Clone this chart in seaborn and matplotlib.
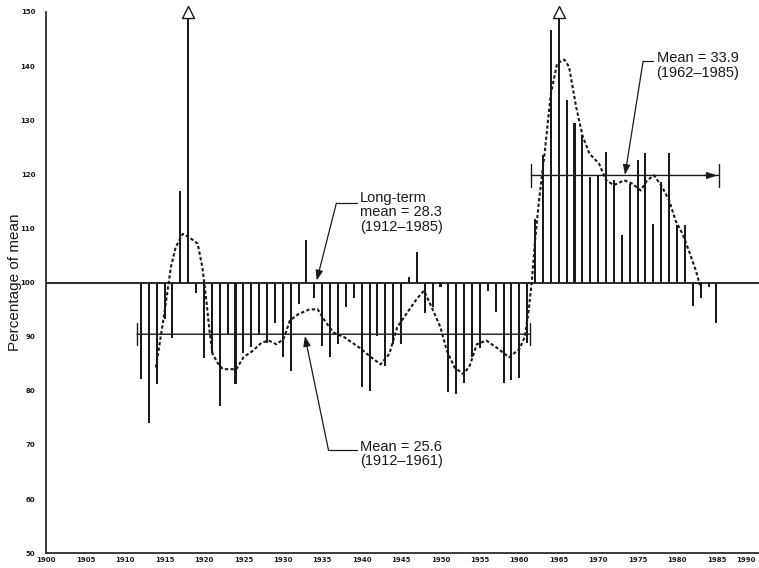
import matplotlib
matplotlib.use('Agg')
import matplotlib.pyplot as plt
import seaborn as sns

# Annual values as a percentage of the long-term mean (1912-1985)
# 1918 and 1965 run off the top of the scale (drawn with an open arrowhead)
years = list(range(1912, 1986))
pct_of_mean = [
    82.2, 74.0, 81.3, 93.3, 89.8, 117.0, 155.0, 98.0, 86.0, 87.0,         # 1912-1921
    77.2, 90.5, 81.3, 87.0, 88.1, 90.5, 88.9, 92.6, 86.3, 83.7,           # 1922-1931
    96.1, 107.8, 97.1, 88.3, 86.3, 88.7, 95.4, 97.2, 80.7, 80.0,          # 1932-1941
    90.2, 84.6, 88.7, 88.7, 101.0, 105.6, 94.3, 95.4, 99.1, 79.7,         # 1942-1951
    79.4, 81.5, 86.2, 88.0, 98.5, 94.5, 81.5, 82.0, 82.4, 88.8,           # 1952-1961
    111.8, 123.5, 146.7, 155.0, 133.7, 129.4, 127.2, 119.5, 119.8, 124.1,  # 1962-1971
    118.9, 108.7, 118.3, 122.6, 124.0, 110.9, 118.6, 124.0, 110.7, 110.7,  # 1972-1981
    95.7, 97.1, 99.1, 92.6,                                                # 1982-1985
]

# Smoothed curve (dashed)
curve_years = [
    1913.9, 1914.9, 1915.8, 1916.4, 1917.3, 1918.1, 1919.2, 1919.8, 1920.3, 1920.7,
    1921.1, 1921.8, 1922.4, 1924.1, 1925.0, 1926.2, 1927.3, 1928.2, 1929.2, 1930.1,
    1930.9, 1932.0, 1933.3, 1934.4, 1935.3, 1936.4, 1937.8, 1939.7, 1941.2, 1942.4,
    1943.5, 1944.5, 1945.8, 1947.0, 1947.9, 1948.9, 1950.0, 1950.8, 1951.8, 1952.9,
    1953.7, 1954.6, 1955.8, 1957.1, 1958.7, 1960.0, 1960.7, 1961.2, 1961.6, 1962.0,
    1962.5, 1963.2, 1964.0, 1964.8, 1965.7, 1966.3, 1967.2, 1968.0, 1968.9, 1970.1,
    1971.0, 1972.0, 1973.3, 1974.3, 1975.4, 1976.2, 1977.1, 1978.1, 1979.0, 1979.8,
    1980.7, 1981.5, 1982.4, 1982.9,
]
curve_pct = [
    84.3, 93.6, 102.8, 106.5, 109.0, 108.4, 107.2, 102.8, 96.7, 91.1,
    86.8, 85.0, 84.0, 84.0, 86.2, 87.4, 88.9, 89.3, 88.6, 89.6,
    93.0, 94.2, 95.0, 95.1, 93.0, 90.8, 89.9, 88.0, 86.2, 84.9,
    86.8, 91.7, 94.5, 97.0, 98.5, 95.4, 91.7, 87.4, 84.3, 83.1,
    84.6, 88.6, 89.3, 88.0, 86.2, 87.7, 90.0, 95.0, 100.5, 107.8,
    115.2, 123.8, 134.9, 140.5, 141.2, 139.9, 132.5, 127.2, 123.8, 122.0,
    118.9, 118.0, 118.9, 118.3, 117.0, 118.9, 119.8, 117.7, 115.2, 111.5,
    109.0, 105.9, 102.2, 99.5,
]

long_term_mean = 28.3
periods = [(1912, 1961), (1962, 1985)]
period_means = [25.6, 33.9]

INK = '#1a1a1a'


def make_chart():
    sns.set_style('white')
    plt.rcParams['font.family'] = ['Liberation Sans', 'DejaVu Sans']

    fig, ax = plt.subplots(figsize=(7.59, 5.68), dpi=100)
    fig.subplots_adjust(left=0.061, right=1.0, bottom=0.026, top=0.979)

    # vertical bars hanging from the 100 % line
    heights = [p - 100 for p in pct_of_mean]
    sns.barplot(x=years, y=heights, bottom=100, native_scale=True, width=0.26,
                color=INK, saturation=1, linewidth=0, errorbar=None, ax=ax)

    # off-scale years get an open arrowhead at the top
    off_years = [y for y, p in zip(years, pct_of_mean) if p > 150]
    sns.scatterplot(x=off_years, y=[150] * len(off_years), marker='^', s=75,
                    color='white', edgecolor=INK, linewidth=1.0, clip_on=False,
                    zorder=5, ax=ax)

    # smoothed curve
    sns.lineplot(x=curve_years, y=curve_pct, sort=False, estimator=None,
                 color=INK, lw=1.5, linestyle=(0, (1.6, 1.1)), ax=ax)

    # long-term mean line
    ax.axhline(100, color=INK, lw=1.3, zorder=3)

    # period means, drawn as bracketed horizontal lines
    for (start, end), m in zip(periods, period_means):
        level = m / long_term_mean * 100
        ax.annotate('', xy=(end + 0.35, level), xytext=(start - 0.5, level),
                    arrowprops=dict(arrowstyle='|-|, widthA=0.8, widthB=0.8',
                                    mutation_scale=10, lw=1.0, color=INK,
                                    shrinkA=0, shrinkB=0))
    # small arrowhead just inside the right cap of the later period
    late_level = period_means[1] / long_term_mean * 100
    ax.annotate('', xy=(periods[1][1] + 0.1, late_level),
                xytext=(periods[1][1] - 1.5, late_level),
                arrowprops=dict(arrowstyle='-|>, head_length=0.6, head_width=0.2',
                                mutation_scale=10, lw=1.0, color=INK,
                                shrinkA=0, shrinkB=0))

    # callouts
    arrow_kw = dict(arrowstyle='-|>, head_length=0.6, head_width=0.22',
                    mutation_scale=10, lw=0.9, color=INK, shrinkA=0, shrinkB=0)
    callouts = [
        (f'Long-term\nmean = {long_term_mean}\n({years[0]}\u2013{years[-1]})',
         (1939.8, 117.0), (1939.4, 1936.8, 114.7), (1934.3, 100.4)),
        (f'Mean = {period_means[0]}\n({periods[0][0]}\u2013{periods[0][1]})',
         (1939.8, 71.0), (1939.4, 1935.8, 69.0), (1932.8, 90.1)),
        (f'Mean = {period_means[1]}\n({periods[1][0]}\u2013{periods[1][1]})',
         (1977.4, 142.7), (1977.0, 1975.7, 140.9), (1973.4, 119.9)),
    ]
    for label, txt_xy, (x0, x1, ye), tip in callouts:
        ax.text(txt_xy[0], txt_xy[1], label, ha='left', va='top',
                fontsize=10.5, linespacing=1.08, color=INK)
        ax.plot([x0, x1], [ye, ye], color=INK, lw=0.9)
        ax.annotate('', xy=tip, xytext=(x1, ye), arrowprops=arrow_kw)

    # axes
    ax.set_xlim(1900, 1990.4)
    ax.set_ylim(50, 150)
    ax.set_xticks(range(1900, 1991, 5))
    ax.set_yticks(range(50, 151, 10))
    ax.tick_params(axis='both', direction='in', length=3, width=0.8,
                   labelsize=5, colors=INK)
    ax.tick_params(axis='y', pad=8)
    ax.tick_params(axis='x', pad=3)
    for lbl in ax.get_xticklabels() + ax.get_yticklabels():
        lbl.set_fontweight('bold')
        lbl.set_family('DejaVu Sans')
    # keep the last year label inside the figure
    ax.get_xticklabels()[-1].set_horizontalalignment('right')
    sns.despine(ax=ax)
    for side in ('left', 'bottom'):
        ax.spines[side].set_linewidth(1.2)
        ax.spines[side].set_color(INK)

    ax.set_xlabel('')
    ax.set_ylabel('Percentage of mean', fontsize=11, color=INK)
    ax.yaxis.set_label_coords(-0.034, 0.5)

    fig.savefig('out.png', dpi=100)


if __name__ == '__main__':
    make_chart()
